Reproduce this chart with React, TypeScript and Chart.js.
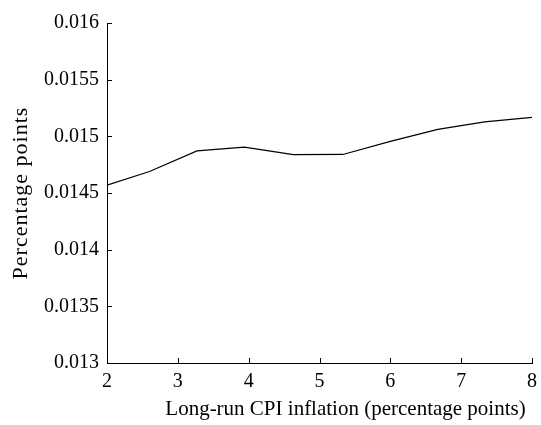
import React, { useEffect, useRef } from "react";
import { Chart, registerables } from "chart.js";

Chart.register(...registerables);

const inflation = [2, 2.6, 3.27, 3.94, 4.63, 5.33, 6, 6.67, 7.33, 8];
const response = [0.01457, 0.01469, 0.014871, 0.014905, 0.014838, 0.01484, 0.014955, 0.015062, 0.015128, 0.015168];
const xTicks = [2, 3, 4, 5, 6, 7, 8];
const yTicks = [0.013, 0.0135, 0.014, 0.0145, 0.015, 0.0155, 0.016];
const xTitle = "Long-run CPI inflation (percentage points)";
const yTitle = "Percentage points";

const FONT = "'Liberation Serif', 'Times New Roman', serif";

const innerTicks = {
  id: "innerTicks",
  afterDraw(chart: any) {
    const { ctx, chartArea, scales } = chart;
    const xs = scales.x;
    const ys = scales.y;
    ctx.save();
    ctx.strokeStyle = "#000";
    ctx.lineWidth = 1;
    ctx.beginPath();
    for (const v of xTicks) {
      const px = Math.round(xs.getPixelForValue(v)) + 0.5;
      ctx.moveTo(px, chartArea.bottom);
      ctx.lineTo(px, chartArea.bottom - 5);
    }
    for (const v of yTicks) {
      const py = Math.round(ys.getPixelForValue(v)) + 0.5;
      ctx.moveTo(chartArea.left, py);
      ctx.lineTo(chartArea.left + 5, py);
    }
    ctx.stroke();
    ctx.fillStyle = "#000";
    ctx.textAlign = "center";
    ctx.textBaseline = "middle";
    ctx.font = `21px ${FONT}`;
    const cx = (chartArea.left + chartArea.right) / 2 + 26;
    ctx.fillText(xTitle, cx, chartArea.bottom + 46);
    ctx.translate(21, (chartArea.top + chartArea.bottom) / 2);
    ctx.rotate(-Math.PI / 2);
    ctx.font = `22px ${FONT}`;
    try {
      (ctx as any).letterSpacing = "1px";
    } catch (e) {}
    ctx.fillText(yTitle, 0, 0);
    ctx.restore();
  },
};

export default function App() {
  const ref = useRef<HTMLCanvasElement>(null);
  useEffect(() => {
    document.body.style.margin = "0";
    const chart = new Chart(ref.current!, {
      type: "line",
      data: {
        datasets: [
          {
            data: inflation.map((x, i) => ({ x, y: response[i] })),
            borderColor: "#000",
            borderWidth: 1.2,
            pointRadius: 0,
            fill: false,
            tension: 0,
          },
        ],
      },
      options: {
        animation: false,
        responsive: false,
        layout: { padding: { left: 0, right: 9, top: 23, bottom: 0 } },
        plugins: { legend: { display: false }, tooltip: { enabled: false } },
        scales: {
          x: {
            type: "linear",
            min: 2,
            max: 8,
            afterBuildTicks: (s: any) => {
              s.ticks = xTicks.map((v) => ({ value: v }));
            },
            afterFit: (s: any) => {
              s.height = 62;
              s.paddingRight = 0;
              s.paddingLeft = 0;
            },
            grid: { display: false, drawTicks: false },
            border: { display: true, color: "#000", width: 1 },
            ticks: {
              color: "#000",
              padding: 7,
              font: { family: FONT, size: 20 },
              maxRotation: 0,
              callback: (v: any) => String(v),
            },
          },
          y: {
            type: "linear",
            min: 0.013,
            max: 0.016,
            afterBuildTicks: (s: any) => {
              s.ticks = yTicks.map((v) => ({ value: v }));
            },
            afterFit: (s: any) => {
              s.width = 107;
              s.paddingTop = 0;
              s.paddingBottom = 0;
            },
            grid: { display: false, drawTicks: false },
            border: { display: true, color: "#000", width: 1 },
            ticks: {
              color: "#000",
              padding: 8,
              font: { family: FONT, size: 20 },
              callback: (v: any) => String(Number(Number(v).toFixed(5))),
            },
          },
        },
      },
      plugins: [innerTicks],
    });
    return () => chart.destroy();
  }, []);
  return <canvas ref={ref} width={541} height={425} style={{ display: "block" }} />;
}
